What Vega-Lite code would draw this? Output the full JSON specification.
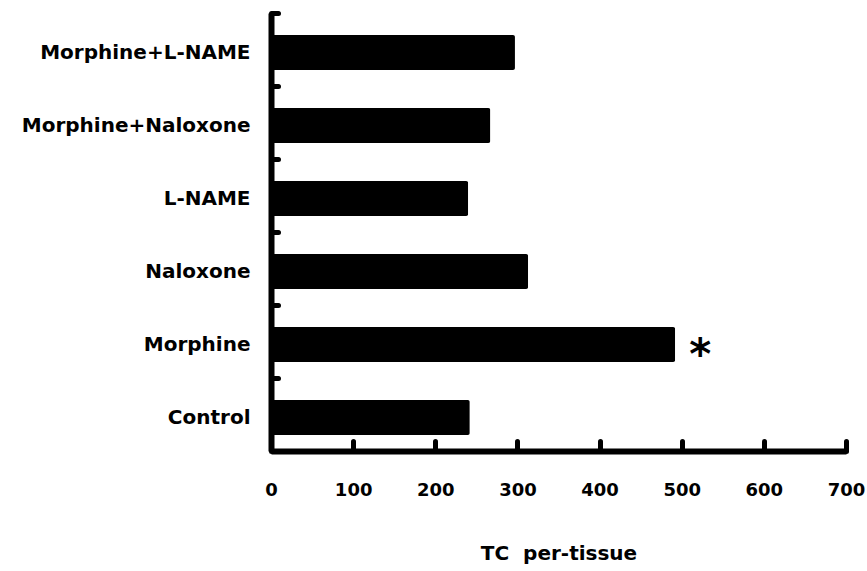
{
  "$schema": "https://vega.github.io/schema/vega-lite/v6.json",
  "autosize": {"type": "none"},
  "width": 575,
  "height": 438,
  "padding": {"left": 271, "top": 13, "right": 21, "bottom": 120},
  "background": "white",
  "data": {
    "values": [
      {"group": "Morphine+L-NAME", "tc": 297, "sig": ""},
      {"group": "Morphine+Naloxone", "tc": 267, "sig": ""},
      {"group": "L-NAME", "tc": 240, "sig": ""},
      {"group": "Naloxone", "tc": 313, "sig": ""},
      {"group": "Morphine", "tc": 492, "sig": "*"},
      {"group": "Control", "tc": 242, "sig": ""}
    ]
  },
  "encoding": {
    "y": {
      "field": "group",
      "type": "nominal",
      "sort": null,
      "scale": {"paddingInner": 0.52, "paddingOuter": 0.26, "align": 0.58},
      "axis": {
        "title": null,
        "bandPosition": -0.6,
        "domainColor": "black",
        "domainWidth": 6,
        "tickColor": "black",
        "tickSize": -7,
        "tickWidth": 5,
        "tickCap": "round",
        "labelFont": "DejaVu Sans",
        "labelFontWeight": "bold",
        "labelFontSize": 20,
        "labelColor": "black",
        "labelPadding": 28,
        "labelLimit": 0,
        "labelAlign": "right"
      }
    },
    "x": {
      "field": "tc",
      "type": "quantitative",
      "scale": {"domain": [0, 700], "nice": false},
      "axis": {
        "title": "TC\u00a0\u00a0per-tissue",
        "values": [0, 100, 200, 300, 400, 500, 600, 700],
        "grid": false,
        "domainColor": "black",
        "domainWidth": 6,
        "tickColor": "black",
        "tickSize": -10,
        "tickWidth": 5,
        "tickCap": "round",
        "labelFont": "DejaVu Sans",
        "labelFontWeight": "bold",
        "labelFontSize": 18,
        "labelColor": "black",
        "labelPadding": 40,
        "labelFlush": false,
        "titleFont": "DejaVu Sans",
        "titleFontWeight": "bold",
        "titleFontSize": 20,
        "titleColor": "black",
        "titlePadding": 44
      }
    }
  },
  "layer": [
    {
      "mark": {"type": "bar", "color": "black", "cornerRadius": 2}
    },
    {
      "mark": {
        "type": "text",
        "font": "DejaVu Sans",
        "fontWeight": "bold",
        "fontSize": 42,
        "color": "black",
        "align": "center",
        "baseline": "middle",
        "dx": 25,
        "dy": 11
      },
      "encoding": {"text": {"field": "sig"}}
    }
  ],
  "config": {"view": {"stroke": null}}
}
